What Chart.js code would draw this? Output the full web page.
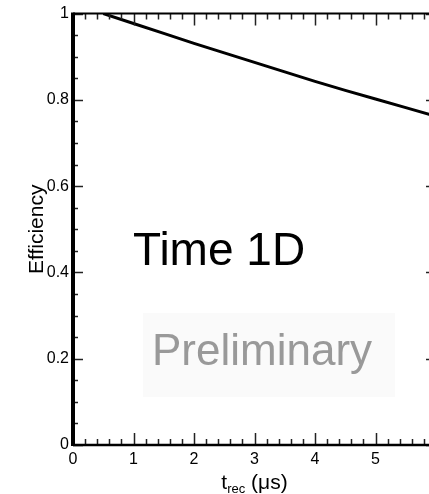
<!DOCTYPE html>
<html>
<head>
<meta charset="utf-8">
<script src="https://cdn.jsdelivr.net/npm/chart.js@4/dist/chart.umd.min.js"></script>
<style>
  html, body { margin: 0; padding: 0; background: #fff; overflow: hidden; width: 429px; height: 494px; }
  #wrap { position: relative; width: 460px; height: 494px; }
</style>
</head>
<body>
<div id="wrap"><canvas id="c" width="460" height="494"></canvas></div>
<script>
// Reconstruction time (µs) and the matching efficiency
const recTimes   = [0.5, 1, 1.5, 2, 2.5, 3, 3.5, 4, 4.5, 5, 5.5, 6];
const efficiency = [1.0, 0.977, 0.954, 0.931, 0.909, 0.887, 0.865, 0.843, 0.822, 0.802, 0.782, 0.762];

// Axis ticks
const xTicks = [0, 1, 2, 3, 4, 5, 6];
const yTicks = [0, 0.2, 0.4, 0.6, 0.8, 1];
const xMinorStep = 0.2;
const yMinorStep = 0.05;

const FONT = '"Liberation Sans", Arial, Helvetica, sans-serif';

// Frame with inward major/minor ticks plus the annotation texts
const framePlugin = {
  id: 'frame',
  afterDraw(chart) {
    const { ctx, chartArea: a, scales: { x, y } } = chart;
    ctx.save();

    // x ticks (bottom and top)
    ctx.strokeStyle = '#222';
    ctx.lineWidth = 1.5;
    const nx = Math.round((x.max - x.min) / xMinorStep);
    for (let i = 0; i <= nx; i++) {
      const v = x.min + i * xMinorStep;
      const px = Math.round(x.getPixelForValue(v)) + 0.5;
      const major = xTicks.some(t => Math.abs(t - v) < 1e-6);
      const len = major ? 12 : 6;
      ctx.beginPath();
      ctx.moveTo(px, a.bottom); ctx.lineTo(px, a.bottom - len);
      ctx.moveTo(px, a.top);    ctx.lineTo(px, a.top + len);
      ctx.stroke();
    }
    // y ticks (left and right)
    const ny = Math.round((y.max - y.min) / yMinorStep);
    for (let i = 0; i <= ny; i++) {
      const v = y.min + i * yMinorStep;
      const py = Math.round(y.getPixelForValue(v)) + 0.5;
      const major = yTicks.some(t => Math.abs(t - v) < 1e-6);
      const len = major ? 10 : 5;
      ctx.beginPath();
      ctx.moveTo(a.left, py);  ctx.lineTo(a.left + len, py);
      ctx.moveTo(a.right, py); ctx.lineTo(a.right - len, py);
      ctx.stroke();
    }

    // frame lines
    ctx.strokeStyle = '#000';
    ctx.lineWidth = 2;
    ctx.beginPath(); ctx.moveTo(a.left, a.top); ctx.lineTo(a.right, a.top); ctx.stroke();
    ctx.beginPath(); ctx.moveTo(a.right, a.top); ctx.lineTo(a.right, a.bottom); ctx.stroke();
    ctx.lineWidth = 2.5;
    ctx.beginPath(); ctx.moveTo(a.left, a.bottom); ctx.lineTo(a.right, a.bottom); ctx.stroke();
    ctx.lineWidth = 4;
    ctx.beginPath(); ctx.moveTo(a.left, a.top - 1); ctx.lineTo(a.left, a.bottom + 1); ctx.stroke();

    // "Time 1D" label
    ctx.fillStyle = '#000';
    ctx.font = '46px ' + FONT;
    ctx.textAlign = 'left';
    ctx.textBaseline = 'alphabetic';
    ctx.fillText('Time 1D', 133, 265);

    // "Preliminary" stamp
    ctx.fillStyle = '#fafafa';
    ctx.fillRect(143, 313, 252, 84);
    ctx.fillStyle = '#999';
    ctx.font = '44px ' + FONT;
    ctx.fillText('Preliminary', 152, 365);

    // x axis title: t_rec (µs)
    const cx = (a.left + a.right) / 2;
    const big = '21px ' + FONT, small = '13px ' + FONT;
    ctx.fillStyle = '#000';
    ctx.font = big;  const w1 = ctx.measureText('t').width;
    ctx.font = small; const w2 = ctx.measureText('rec').width;
    ctx.font = big;  const w3 = ctx.measureText(' (\u03bcs)').width;
    let tx = cx - (w1 + w2 + w3) / 2;
    const base = 489;
    ctx.font = big;   ctx.fillText('t', tx, base); tx += w1;
    ctx.font = small; ctx.fillText('rec', tx, base + 4); tx += w2;
    ctx.font = big;   ctx.fillText(' (\u03bcs)', tx, base);

    // y axis title
    ctx.save();
    ctx.translate(43, (a.top + a.bottom) / 2);
    ctx.rotate(-Math.PI / 2);
    ctx.font = '21px ' + FONT;
    ctx.textAlign = 'center';
    ctx.textBaseline = 'alphabetic';
    ctx.fillText('Efficiency', 0, 0);
    ctx.restore();

    ctx.restore();
  }
};

new Chart(document.getElementById('c'), {
  type: 'line',
  data: {
    datasets: [{
      data: recTimes.map((t, i) => ({ x: t, y: efficiency[i] })),
      borderColor: '#000',
      borderWidth: 3,
      pointRadius: 0,
      tension: 0,
      fill: false
    }]
  },
  options: {
    responsive: false,
    animation: false,
    devicePixelRatio: 1,
    layout: { padding: { top: 11, right: 24, left: 0, bottom: 0 } },
    plugins: { legend: { display: false }, tooltip: { enabled: false } },
    scales: {
      x: {
        type: 'linear',
        min: 0, max: 6,
        afterBuildTicks: s => { s.ticks = xTicks.map(v => ({ value: v })); },
        afterFit: s => { s.height = 49; },
        grid: { display: false, drawTicks: false },
        border: { display: false },
        ticks: {
          padding: 5,
          autoSkip: false,
          maxRotation: 0,
          color: '#000',
          font: { family: FONT, size: 16 },
          callback: v => String(v)
        }
      },
      y: {
        type: 'linear',
        min: 0, max: 1,
        afterBuildTicks: s => { s.ticks = yTicks.map(v => ({ value: v })); },
        afterFit: s => { s.width = 73; },
        grid: { display: false, drawTicks: false },
        border: { display: false },
        ticks: {
          padding: 4,
          autoSkip: false,
          color: '#000',
          font: { family: FONT, size: 16 },
          callback: v => String(v)
        }
      }
    }
  },
  plugins: [framePlugin]
});
</script>
</body>
</html>
